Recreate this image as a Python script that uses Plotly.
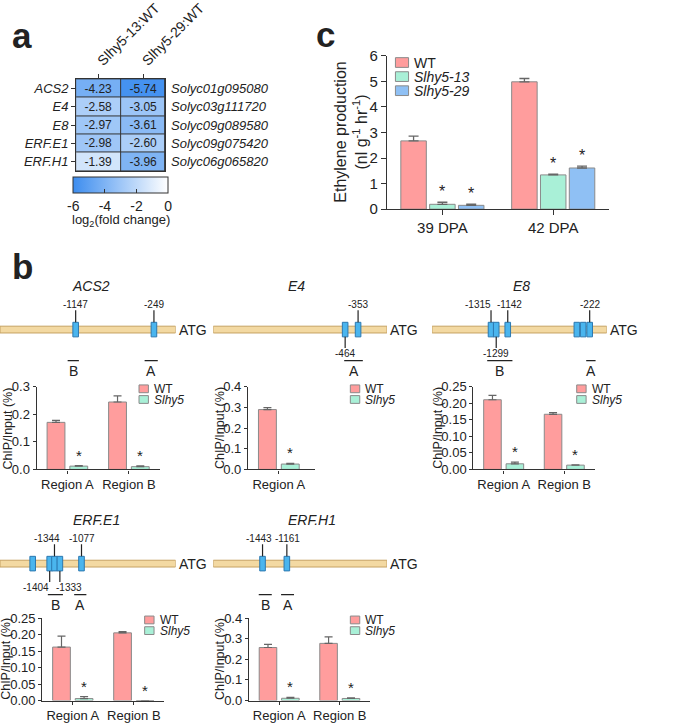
import plotly.graph_objects as go

W, H = 675, 727


def fx(px):
    return px / W


def fy(py):
    return 1 - py / H


FONT = "Liberation Sans, Arial, sans-serif"
INK = "#222222"

# ---------------- Panel a : heatmap data ----------------
heat_genes = ["ACS2", "E4", "E8", "ERF.E1", "ERF.H1"]
heat_ids = ["Solyc01g095080", "Solyc03g111720", "Solyc09g089580", "Solyc09g075420", "Solyc06g065820"]
heat_cols = ["Slhy5-13:WT", "Slhy5-29:WT"]
heat_13 = [-4.23, -2.58, -2.97, -2.98, -1.39]
heat_29 = [-5.74, -3.05, -3.61, -2.60, -3.96]
cbar_ticks = [-6, -4, -2, 0]

# ---------------- Panel c : ethylene production ----------------
eth_groups = ["39 DPA", "42 DPA"]
eth_names = ["WT", "<i>Slhy5-13</i>", "<i>Slhy5-29</i>"]
eth_wt = [2.67, 4.98]
eth_wt_err = [0.19, 0.13]
eth_13 = [0.19, 1.34]
eth_13_err = [0.08, 0.03]
eth_29 = [0.15, 1.61]
eth_29_err = [0.05, 0.07]
eth_sig = [[False, False], [True, True], [True, True]]

# ---------------- Panel b : promoter schematics ----------------
promoter_len = 2015
prom_genes = ["ACS2", "E4", "E8", "ERF.E1", "ERF.H1"]
# displayed positions of the binding elements (bp upstream of ATG) and their labels
acs2_site_pos = [-1147, -249]
acs2_site_lab = ["-1147", "-249"]
acs2_site_side = ["up", "up"]
acs2_site_anchor = ["center", "center"]
acs2_site_dx = [0, 0]
e4_site_pos = [-485, -335]
e4_site_lab = ["-464", "-353"]
e4_site_side = ["down", "up"]
e4_site_anchor = ["center", "center"]
e4_site_dx = [0, 0]
e8_site_pos = [-1335, -1275, -1142, -345, -272, -197]
e8_site_lab = ["-1315", "-1299", "-1142", "", "", "-222"]
e8_site_side = ["up", "down", "up", "", "", "up"]
e8_site_anchor = ["right", "center", "center", "center", "center", "center"]
e8_site_dx = [2, 0, 2, 0, 0, 0]
e1_site_pos = [-1640, -1445, -1390, -1328, -1080]
e1_site_lab = ["", "-1404", "-1344", "-1333", "-1077"]
e1_site_side = ["", "down", "up", "down", "up"]
e1_site_anchor = ["center", "right", "right", "left", "center"]
e1_site_dx = [0, 1, 8, -6, 0]
h1_site_pos = [-1443, -1161]
h1_site_lab = ["-1443", "-1161"]
h1_site_side = ["up", "up"]
h1_site_anchor = ["center", "center"]
h1_site_dx = [-4, 1]
# amplified regions: (name, start, end)
acs2_amp = [("B", -1239, -1110), ("A", -356, -205)]
e4_amp = [("A", -496, -280)]
e8_amp = [("B", -1379, -1088), ("A", -237, -129)]
e1_amp = [("B", -1466, -1293), ("A", -1164, -1024)]
h1_amp = [("B", -1487, -1336), ("A", -1228, -1078)]

# ---------------- Panel b : ChIP-qPCR ----------------
chip_names = ["WT", "<i>Slhy5</i>"]
acs2_regions = ["Region A", "Region B"]
acs2_wt = [0.171, 0.245]
acs2_wt_err = [0.007, 0.022]
acs2_mut = [0.012, 0.010]
acs2_mut_err = [0.002, 0.003]
acs2_sig = [True, True]

e4_regions = ["Region A"]
e4_wt = [0.290]
e4_wt_err = [0.009]
e4_mut = [0.026]
e4_mut_err = [0.004]
e4_sig = [True]

e8_regions = ["Region A", "Region B"]
e8_wt = [0.211, 0.167]
e8_wt_err = [0.013, 0.005]
e8_mut = [0.017, 0.013]
e8_mut_err = [0.005, 0.001]
e8_sig = [True, True]

e1_regions = ["Region A", "Region B"]
e1_wt = [0.162, 0.205]
e1_wt_err = [0.033, 0.004]
e1_mut = [0.006, 0.0]
e1_mut_err = [0.006, 0.0]
e1_sig = [True, True]

h1_regions = ["Region A", "Region B"]
h1_wt = [0.257, 0.277]
h1_wt_err = [0.015, 0.032]
h1_mut = [0.011, 0.010]
h1_mut_err = [0.005, 0.003]
h1_sig = [True, True]

COL_WT = "#ff9d9d"
COL_13 = "#a9f0d7"
COL_29 = "#8fc0f4"
BAR_LINE = "#8a8a8a"
ERR_COL = "#666666"

fig = go.Figure()
shapes = []
annotations = []
layout = {}

axis_base = dict(showline=True, linecolor="#333333", linewidth=1.2, ticks="outside", ticklen=3,
                 tickwidth=1.2, tickcolor="#333333", showgrid=False, zeroline=False,
                 tickfont=dict(size=13, family=FONT, color=INK), fixedrange=True)


def ann(x, y, text, size=13, xref="paper", yref="paper", **kw):
    d = dict(x=x, y=y, xref=xref, yref=yref, text=text, showarrow=False,
             xanchor="center", yanchor="middle",
             font=dict(size=size, family=FONT, color=kw.pop("color", INK)))
    d.update(kw)
    annotations.append(d)


def legend_box(left_px, yc_px, w, h, col, text, size):
    shapes.append(dict(type="rect", xref="paper", yref="paper", x0=fx(left_px), x1=fx(left_px + w),
                       y0=fy(yc_px + h / 2), y1=fy(yc_px - h / 2), fillcolor=col,
                       line=dict(color=BAR_LINE, width=1)))
    ann(fx(left_px + w + 4), fy(yc_px), text, size=size, xanchor="left")


# ================= Panel a =================
fig.add_trace(go.Heatmap(
    z=[[a, b] for a, b in zip(heat_13, heat_29)], x=heat_cols, y=heat_genes,
    zmin=-6, zmax=0, colorscale=[[0, "#3d8def"], [1, "#ffffff"]],
    xgap=1, ygap=1, texttemplate="%{z:.2f}",
    textfont=dict(size=12, color=INK, family=FONT), hoverinfo="skip",
    colorbar=dict(orientation="h", x=fx(128.5), xanchor="center", y=fy(169), yanchor="top",
                  len=95, lenmode="pixels", thickness=16, thicknessmode="pixels",
                  outlinewidth=1, outlinecolor="#333333", tickvals=cbar_ticks,
                  ticktext=[str(t) for t in cbar_ticks], ticks="inside", ticklen=4,
                  tickcolor="#333333", tickfont=dict(size=14, family=FONT, color=INK),
                  xpad=0, ypad=0),
    xaxis="x", yaxis="y", showlegend=False))
layout["xaxis"] = dict(axis_base, domain=[fx(81), fx(176)], side="top", anchor="y", mirror=True,
                       tickangle=-45, linewidth=1, ticklen=4,
                       tickfont=dict(size=14, family=FONT, color=INK))
layout["yaxis"] = dict(axis_base, domain=[fy(163), fy(68)], anchor="x", mirror=True,
                       autorange="reversed", linewidth=1, ticklen=4, tickvals=heat_genes,
                       ticktext=["<i>%s</i>" % g for g in heat_genes])
shapes.append(dict(type="rect", xref="paper", yref="paper", x0=fx(81), x1=fx(176), y0=fy(163),
                   y1=fy(68), fillcolor="#333333", line=dict(width=0), layer="below"))
for g, gid in zip(heat_genes, heat_ids):
    ann(fx(180), g, "<i>%s</i>" % gid, size=13, yref="y", xanchor="left")
ann(fx(128.5), fy(214), "log<sub>2</sub>(fold change)", size=13)
ann(fx(11), fy(23), "<b>a</b>", size=35, xanchor="left")

# ================= Panel c =================
eth_vals = [eth_wt, eth_13, eth_29]
eth_errs = [eth_wt_err, eth_13_err, eth_29_err]
eth_cols = [COL_WT, COL_13, COL_29]
eth_offsets = [-0.375, -0.115, 0.145]
eth_w = 0.23
for name, vals, errs, col, off in zip(eth_names, eth_vals, eth_errs, eth_cols, eth_offsets):
    fig.add_trace(go.Bar(
        x=list(range(len(eth_groups))), y=vals, name=name, width=eth_w, offset=off,
        marker=dict(color=col, line=dict(color=BAR_LINE, width=1)),
        error_y=dict(type="data", array=errs, arrayminus=[0] * len(errs), symmetric=False,
                     color=ERR_COL, thickness=1.3, width=5),
        xaxis="x2", yaxis="y2", showlegend=False, hoverinfo="skip"))
for k, (vals, errs, sig, off) in enumerate(zip(eth_vals, eth_errs, eth_sig, eth_offsets)):
    for i in range(len(eth_groups)):
        if sig[i]:
            ann(i + off + eth_w / 2, vals[i] + errs[i], "*", size=16, xref="x2", yref="y2",
                yanchor="bottom", yshift=0)
layout["xaxis2"] = dict(axis_base, domain=[fx(412), fx(648)], anchor="y2", range=[-0.5, 1.5],
                        tickvals=list(range(len(eth_groups))), ticktext=eth_groups,
                        ticklen=5, tickfont=dict(size=15, family=FONT, color=INK))
layout["yaxis2"] = dict(axis_base, domain=[fy(202), fy(44)], anchor="x2", range=[0, 6], dtick=1,
                        ticklen=5, tickfont=dict(size=15, family=FONT, color=INK))
for j, (name, col) in enumerate(zip(eth_names, eth_cols)):
    legend_box(421, 51 + 14.5 * j, 14, 10, col, name, 14)
ann(fx(374), fy(123), "Ethylene production<br>(nl g<sup>-1</sup> hr<sup>-1</sup>)", size=16,
    textangle=-90)
ann(fx(334), fy(22), "<b>c</b>", size=35, xanchor="left")

# ================= Panel b : promoters =================
ann(fx(11), fy(261), "<b>b</b>", size=35, xanchor="left")
prom_sites = [(acs2_site_pos, acs2_site_lab, acs2_site_side, acs2_site_anchor, acs2_site_dx),
              (e4_site_pos, e4_site_lab, e4_site_side, e4_site_anchor, e4_site_dx),
              (e8_site_pos, e8_site_lab, e8_site_side, e8_site_anchor, e8_site_dx),
              (e1_site_pos, e1_site_lab, e1_site_side, e1_site_anchor, e1_site_dx),
              (h1_site_pos, h1_site_lab, h1_site_side, h1_site_anchor, h1_site_dx)]
prom_amp = [acs2_amp, e4_amp, e8_amp, e1_amp, h1_amp]
prom_xdom = [(0, 187), (227, 412), (460, 646), (0, 187), (227, 412)]
prom_yc = [326, 326, 326, 567, 567]
title_px = [97, 316, 555, 103, 332]

for k, gene in enumerate(prom_genes):
    ax = k + 3
    xr, yr = "x%d" % ax, "y%d" % ax
    x0, x1 = prom_xdom[k]
    yc = prom_yc[k]
    pos, lab, side, anc, dxs = prom_sites[k]
    fig.add_trace(go.Scatter(x=pos, y=[0] * len(pos), mode="markers", marker=dict(opacity=0),
                             xaxis=xr, yaxis=yr, showlegend=False, hoverinfo="skip"))
    layout["xaxis%d" % ax] = dict(domain=[fx(x0), fx(x1)], range=[-promoter_len, 0], visible=False,
                                  anchor=yr, fixedrange=True)
    layout["yaxis%d" % ax] = dict(domain=[fy(yc + 45), fy(yc - 40)], range=[-1, 1], visible=False,
                                  anchor=xr, fixedrange=True)
    # promoter bar
    shapes.append(dict(type="rect", xref=xr, yref="paper", x0=-promoter_len, x1=0,
                       y0=fy(yc + 3.5), y1=fy(yc - 3.5), fillcolor="#f3d9a2",
                       line=dict(color="#c6a263", width=1)))
    for p, l, s, a, dx in zip(pos, lab, side, anc, dxs):
        shapes.append(dict(type="rect", xref=xr, yref="paper", xsizemode="pixel", xanchor=p,
                           x0=-2.8, x1=2.8, y0=fy(yc + 7.5), y1=fy(yc - 7.5),
                           fillcolor="#4ab5ee", line=dict(color="#2c78b0", width=1)))
        if not l:
            continue
        if s == "up":
            shapes.append(dict(type="line", xref=xr, yref="paper", x0=p, x1=p,
                               y0=fy(yc - 7.5), y1=fy(yc - 20), line=dict(color=INK, width=1.2)))
            ann(p, fy(yc - 26), l, size=10, xref=xr, xanchor=a, xshift=dx)
        elif s == "down":
            shapes.append(dict(type="line", xref=xr, yref="paper", x0=p, x1=p,
                               y0=fy(yc + 7.5), y1=fy(yc + 19), line=dict(color=INK, width=1.2)))
            ann(p, fy(yc + 25), l, size=10, xref=xr, xanchor=a, xshift=dx)
    for name, a0, a1 in prom_amp[k]:
        shapes.append(dict(type="line", xref=xr, yref="paper", x0=a0, x1=a1,
                           y0=fy(yc + 32), y1=fy(yc + 32), line=dict(color=INK, width=1.3)))
        ann((a0 + a1) / 2, fy(yc + 43), name, size=14, xref=xr)
    ann(0, fy(yc), "ATG", size=14, xref=xr, xanchor="left", xshift=1)
    ann(fx(title_px[k]), fy(yc - 45), "<i>%s</i>" % gene, size=14)

# ================= Panel b : ChIP bars =================
chips = [
    (acs2_regions, acs2_wt, acs2_wt_err, acs2_mut, acs2_mut_err, acs2_sig, [0, 0.3], 0.1, ".1f"),
    (e4_regions, e4_wt, e4_wt_err, e4_mut, e4_mut_err, e4_sig, [0, 0.4], 0.1, ".1f"),
    (e8_regions, e8_wt, e8_wt_err, e8_mut, e8_mut_err, e8_sig, [0, 0.25], 0.05, ".2f"),
    (e1_regions, e1_wt, e1_wt_err, e1_mut, e1_mut_err, e1_sig, [0, 0.25], 0.05, ".2f"),
    (h1_regions, h1_wt, h1_wt_err, h1_mut, h1_mut_err, h1_sig, [0, 0.4], 0.1, ".1f"),
]
chip_xdom = [(39, 170), (264, 335), (504, 633), (45, 175), (265, 394)]
chip_xrange = [[-0.5, 1.5], [-0.5, 0.58], [-0.5, 1.5], [-0.5, 1.5], [-0.5, 1.5]]
chip_ydom = [(470, 385), (470, 385), (470, 385), (708, 623), (708, 623)]
chip_title_x = [9, 234, 466, 7, 234]
chip_legend_x = [148, 373, 614, 154, 373]
chip_offsets = [-0.33, 0.04]
chip_w = 0.29

for k, (regs, wt, wte, mut, mute, sig, yrng, dt, fmt) in enumerate(chips):
    ax = k + 8
    xr, yr = "x%d" % ax, "y%d" % ax
    xs = list(range(len(regs)))
    for name, vals, errs, col, off in zip(chip_names, [wt, mut], [wte, mute], [COL_WT, COL_13],
                                          chip_offsets):
        fig.add_trace(go.Bar(
            x=xs, y=vals, name=name, width=chip_w, offset=off,
            marker=dict(color=col, line=dict(color=BAR_LINE, width=1)),
            error_y=dict(type="data", array=errs, arrayminus=[0] * len(errs), symmetric=False,
                         color=ERR_COL, thickness=1.2, width=4),
            xaxis=xr, yaxis=yr, showlegend=False, hoverinfo="skip"))
    for i in xs:
        if sig[i]:
            ann(i + chip_offsets[1] + chip_w / 2, mut[i] + mute[i], "*", size=15, xref=xr, yref=yr,
                yanchor="bottom")
    layout["xaxis%d" % ax] = dict(axis_base, domain=[fx(chip_xdom[k][0]), fx(chip_xdom[k][1])],
                                  anchor=yr, range=chip_xrange[k], tickvals=xs, ticktext=regs)
    layout["yaxis%d" % ax] = dict(axis_base, domain=[fy(chip_ydom[k][0]), fy(chip_ydom[k][1])],
                                  anchor=xr, range=yrng, dtick=dt, tickformat=fmt)
    top = chip_ydom[k][1]
    for j, (name, col) in enumerate(zip(chip_names, [COL_WT, COL_13])):
        legend_box(chip_legend_x[k], top + 2 + 11 * j, 10, 8, col, name, 12)
    ann(fx(chip_title_x[k]), fy((chip_ydom[k][0] + chip_ydom[k][1]) / 2), "ChIP/Input (%)",
        size=12.5, textangle=-90)

fig.update_layout(
    width=W, height=H, autosize=False, margin=dict(l=0, r=0, t=0, b=0, pad=0),
    paper_bgcolor="white", plot_bgcolor="rgba(0,0,0,0)", barmode="overlay", showlegend=False,
    font=dict(family=FONT, color=INK), shapes=shapes, annotations=annotations, **layout)

fig.write_html("out.html", config={"displayModeBar": False},
               post_script="document.body.style.margin='0';")
